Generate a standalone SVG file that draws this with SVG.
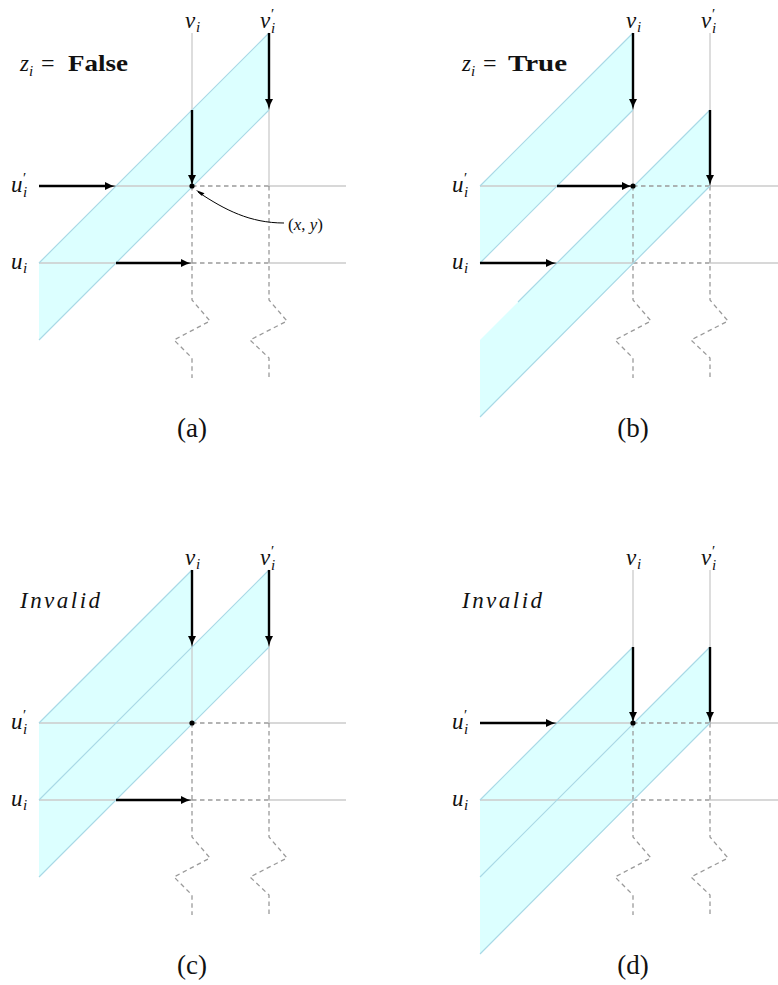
<svg xmlns="http://www.w3.org/2000/svg" width="778" height="985" viewBox="0 0 778 985">
<style>
.bf{fill:#dcffff;stroke:none}
.be{fill:none;stroke:#a9d9e6;stroke-width:1.2}
.g{fill:none;stroke:#cbcbcb;stroke-width:1.3}
.d{fill:none;stroke:#9a9a9a;stroke-width:1.3;stroke-dasharray:4.5 3.5}
.a{fill:none;stroke:#000;stroke-width:2.4;marker-end:url(#ah)}
text{font-family:'Liberation Serif','DejaVu Serif',serif;fill:#111}
.m{font-style:italic;font-size:23px}
.s{font-size:15px}
.p{font-style:normal;font-size:15px}
.cap{font-size:27px;text-anchor:middle}
</style>
<defs>
<marker id="ah" viewBox="0 0 11 8" refX="3" refY="4" markerWidth="11" markerHeight="8" markerUnits="userSpaceOnUse" orient="auto">
<path d="M0,0 Q5,3.2 11,4 Q5,4.8 0,8 z" fill="#000"/>
</marker>
<g id="grid">
<path class="g" d="M39 186H192 M269 186H346 M39 263H192 M269 263H346 M192 33V186 M269 33V186"/>
<path class="d" d="M192 186H269 M192 263H269 M192 186V300 L210 321 L174 340 L192 358 V378 M269 186V300 L287 321 L250 340 L269 358 V378"/>
</g>
<g id="colLabels" font-family="Liberation Serif, DejaVu Serif, serif">
<text class="m" x="185" y="28">v<tspan class="s" x="196" y="32">i</tspan></text>
<text class="m" x="260" y="28">v<tspan class="p" x="271" y="19">′</tspan><tspan class="s" x="271" y="33">i</tspan></text>
<text class="m" x="11" y="192">u<tspan class="p" x="23" y="183">′</tspan><tspan class="s" x="23" y="197">i</tspan></text>
<text class="m" x="11" y="269">u<tspan class="s" x="23" y="273">i</tspan></text>
</g>
</defs>

<g id="panel-a">
<path class="bf" d="M39 263L269 33L269 110L39 340Z"/>
<use href="#grid"/>
<path class="be" d="M39 263L269 33 M39 340L269 110"/>
<g id="conn-a">
<path class="a" d="M269 33V102"/>
<path class="a" d="M192 110V178"/>
<path class="a" d="M39 186H108"/>
<path class="a" d="M116 263H184"/>
<path d="M284 223 C250 223,225 210,198 192" fill="none" stroke="#000" stroke-width="1"/>
<path d="M196 190 L204.5 193.2 L201.5 195.8 Z" fill="#000"/>
</g>
<circle cx="192" cy="186" r="2.6" fill="#000"/>
<use href="#colLabels"/>
<text x="20" y="71" font-family="Liberation Serif, DejaVu Serif, serif"><tspan class="m">z</tspan><tspan class="s" font-style="italic" x="29" y="76">i</tspan><tspan x="41" y="71" font-size="24">=</tspan><tspan x="68" y="71" font-size="23" font-weight="bold" textLength="60" lengthAdjust="spacingAndGlyphs">False</tspan></text>
<text x="288" y="230" font-size="17" font-family="Liberation Serif, DejaVu Serif, serif">(<tspan font-style="italic">x</tspan>, <tspan font-style="italic">y</tspan>)</text>
<text class="cap" x="192" y="437" font-family="Liberation Serif, DejaVu Serif, serif">(a)</text>
</g>

<g id="panel-b" transform="translate(441,0)">
<path class="bf" d="M39 186L192 33L192 110L39 263Z"/>
<path class="bf" d="M39 340L269 110L269 186L39 417Z"/>
<use href="#grid"/>
<path class="be" d="M39 186L192 33 M39 263L192 110 M77 302L269 110 M39 417L269 186"/>
<g id="conn-b">
<path class="a" d="M192 33V102"/>
<path class="a" d="M269 110V178"/>
<path class="a" d="M116 186H184"/>
<path class="a" d="M39 263H108"/>
</g>
<circle cx="192" cy="186" r="2.6" fill="#000"/>
<use href="#colLabels"/>
<text x="21" y="71" font-family="Liberation Serif, DejaVu Serif, serif"><tspan class="m">z</tspan><tspan class="s" font-style="italic" x="30" y="76">i</tspan><tspan x="42" y="71" font-size="24">=</tspan><tspan x="67" y="71" font-size="23" font-weight="bold" textLength="59" lengthAdjust="spacingAndGlyphs">True</tspan></text>
<text class="cap" x="192" y="437" font-family="Liberation Serif, DejaVu Serif, serif">(b)</text>
</g>

<g id="panel-c" transform="translate(0,537)">
<path class="bf" d="M39 186L192 33L192 110L39 263Z"/>
<path class="bf" d="M39 263L269 33L269 110L39 340Z"/>
<use href="#grid"/>
<path class="be" d="M39 186L192 33 M39 263L269 33 M39 340L269 110"/>
<g id="conn-c">
<path class="a" d="M192 33V102"/>
<path class="a" d="M269 33V102"/>
<path class="a" d="M116 263H184"/>
</g>
<circle cx="192" cy="186" r="2.6" fill="#000"/>
<use href="#colLabels"/>
<text class="m" x="20" y="71" textLength="80" lengthAdjust="spacing" font-family="Liberation Serif, DejaVu Serif, serif">Invalid</text>
<text class="cap" x="192" y="437" font-family="Liberation Serif, DejaVu Serif, serif">(c)</text>
</g>

<g id="panel-d" transform="translate(441,537)">
<path class="bf" d="M39 263L192 110L192 186L39 340Z"/>
<path class="bf" d="M39 340L269 110L269 186L39 417Z"/>
<use href="#grid"/>
<path class="be" d="M39 263L192 110 M39 340L269 110 M39 417L269 186"/>
<g id="conn-d">
<path class="a" d="M192 110V178"/>
<path class="a" d="M269 110V178"/>
<path class="a" d="M39 186H108"/>
</g>
<circle cx="192" cy="186" r="2.6" fill="#000"/>
<use href="#colLabels"/>
<text class="m" x="21" y="71" textLength="80" lengthAdjust="spacing" font-family="Liberation Serif, DejaVu Serif, serif">Invalid</text>
<text class="cap" x="192" y="437" font-family="Liberation Serif, DejaVu Serif, serif">(d)</text>
</g>
</svg>
